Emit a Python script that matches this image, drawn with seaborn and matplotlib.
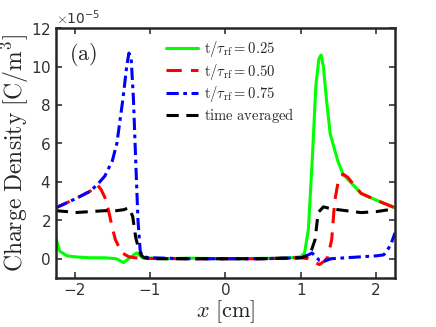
import matplotlib
matplotlib.use("Agg")
import matplotlib.pyplot as plt
import seaborn as sns
import pandas as pd
import numpy as np

# values in units of 1e-5 C/m^3, x in cm
x_025 = [-2.25, -2.2, -2.1, -2.0, -1.8, -1.6, -1.45, -1.35, -1.25, -1.18, -1.1, -0.8, -0.5, 0.0,
         0.5, 0.8, 1.0, 1.05, 1.1, 1.15, 1.2, 1.24, 1.27, 1.3, 1.34, 1.39, 1.49, 1.56, 1.8, 2.0, 2.25]
y_025 = [1.1, 0.4, 0.15, 0.1, 0.05, 0.05, 0.0, -0.2, 0.1, 0.3, 0.05, 0.0, 0.03, 0.0,
         0.02, 0.03, 0.1, 0.3, 1.5, 5.0, 9.0, 10.4, 10.6, 10.0, 8.3, 6.5, 5.1, 4.4, 3.4, 3.05, 2.65]

x_050 = [-2.25, -2.0, -1.8, -1.7, -1.65, -1.6, -1.55, -1.5, -1.46, -1.4, -1.37, -1.28, -1.2, -1.1,
         -0.5, 0.0, 0.5, 1.0, 1.1, 1.18, 1.25, 1.32, 1.36, 1.41, 1.45, 1.5, 1.56, 1.62, 1.8, 2.0, 2.25]
y_050 = [2.65, 3.1, 3.5, 3.85, 3.6, 3.2, 2.5, 1.6, 1.0, 0.5, 0.3, 0.1, 0.05, 0.02,
         0.0, 0.0, 0.0, 0.05, 0.0, -0.2, -0.3, -0.1, 0.1, 1.0, 3.0, 4.1, 4.4, 4.25, 3.4, 3.05, 2.65]

x_075 = [-2.25, -2.0, -1.8, -1.7, -1.6, -1.5, -1.44, -1.36, -1.31, -1.28, -1.25, -1.22, -1.19, -1.16,
         -1.13, -1.1, -1.0, -0.5, 0.0, 0.5, 1.0, 1.1, 1.15, 1.2, 1.25, 1.3, 1.4, 1.6, 1.8, 2.0, 2.1,
         2.15, 2.2, 2.25]
y_075 = [2.65, 3.1, 3.5, 3.85, 4.3, 5.1, 6.0, 8.3, 10.0, 10.7, 10.4, 8.3, 5.1, 2.0,
         0.4, 0.1, 0.05, 0.0, 0.0, 0.0, 0.05, 0.2, 0.3, 0.1, -0.1, -0.15, 0.0, 0.05, 0.1, 0.15, 0.2,
         0.45, 0.8, 1.35]

x_avg = [-2.25, -2.1, -2.0, -1.8, -1.6, -1.45, -1.35, -1.28, -1.23, -1.19, -1.15, -1.12, -1.08,
         -1.0, -0.5, 0.0, 0.5, 1.0, 1.05, 1.12, 1.19, 1.23, 1.3, 1.4, 1.6, 1.8, 2.0, 2.25]
y_avg = [2.5, 2.45, 2.4, 2.45, 2.5, 2.5, 2.55, 2.65, 2.2, 1.1, 0.5, 0.2, 0.05,
         0.0, 0.0, 0.0, 0.0, 0.05, 0.1, 0.2, 1.0, 2.4, 2.7, 2.6, 2.5, 2.4, 2.45, 2.6]

labels = [r"$\mathrm{t}/\tau_{\mathrm{rf}} = 0.25$",
          r"$\mathrm{t}/\tau_{\mathrm{rf}} = 0.50$",
          r"$\mathrm{t}/\tau_{\mathrm{rf}} = 0.75$",
          r"$\mathrm{time\ averaged}$"]
colors = ["#00ff00", "#ff0000", "#0000ff", "#000000"]
styles = ["-", (0, (5, 3)), (0, (4, 1.5, 1.2, 1.5)), (0, (4, 2.5))]

sns.set_theme(style="ticks")
plt.rcParams["mathtext.fontset"] = "cm"
plt.rcParams["font.family"] = ["DejaVu Sans"]
plt.rcParams["xtick.direction"] = "in"
plt.rcParams["ytick.direction"] = "in"
plt.rcParams["xtick.top"] = True
plt.rcParams["ytick.right"] = True

fig = plt.figure(figsize=(4.36, 3.27), dpi=100)
ax = fig.add_axes([0.128, 0.150, 0.778, 0.764])

series = [(x_025, y_025), (x_050, y_050), (x_075, y_075), (x_avg, y_avg)]
for (xs, ys), lab, c, ls in zip(series, labels, colors, styles):
    df = pd.DataFrame({"x": xs, "y": np.array(ys) * 1e-5})
    sns.lineplot(data=df, x="x", y="y", ax=ax, color=c, lw=2.2, label=lab,
                 sort=False, estimator=None)
    ax.lines[-1].set_linestyle(ls)

ax.set_xlim(-2.25, 2.25)
ax.set_ylim(-1e-5, 12e-5)
ax.set_xticks([-2, -1, 0, 1, 2])
ax.set_yticks(np.arange(0, 13, 2) * 1e-5)
ax.ticklabel_format(axis="y", style="sci", scilimits=(-5, -5), useMathText=True)
ax.yaxis.get_offset_text().set_fontsize(10)
ax.yaxis.get_offset_text().set_color("#333333")
ax.tick_params(axis="both", labelsize=11, length=4, width=1.2, colors="#333333")
for sp in ax.spines.values():
    sp.set_linewidth(1.8)
    sp.set_color("#262626")

ax.set_xlabel(r"$x\ \mathrm{[cm]}$", fontsize=16, labelpad=0)
ax.set_ylabel(r"$\mathrm{Charge\ Density\ [C/m^3]}$", fontsize=17, labelpad=0)
ax.text(0.04, 0.95, r"$\mathrm{(a)}$", transform=ax.transAxes, fontsize=16,
        va="top", ha="left")

ax.legend(loc="upper left", bbox_to_anchor=(0.3, 0.99), frameon=False, fontsize=10.5,
          handlelength=2.2, labelspacing=0.15, handletextpad=0.4, borderaxespad=0.2)

fig.savefig("out.png", dpi=100)
